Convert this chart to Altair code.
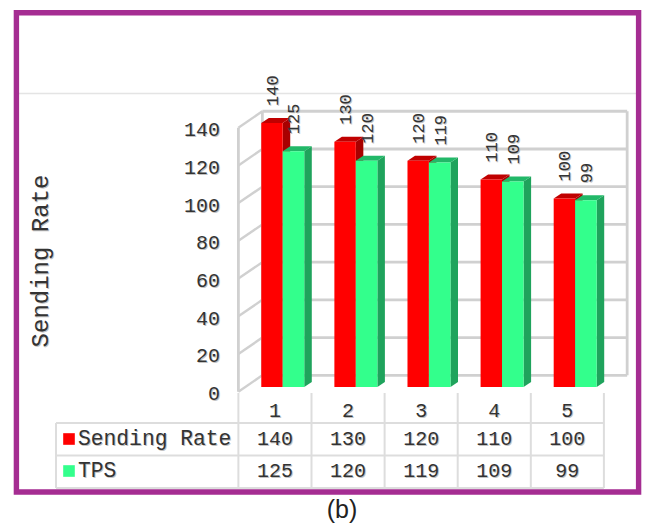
import altair as alt
import pandas as pd

# ---- chart values ----
categories = [1, 2, 3, 4, 5]
sending_rate = [140, 130, 120, 110, 100]
tps = [125, 120, 119, 109, 99]
y_ticks = [0, 20, 40, 60, 80, 100, 120, 140]

W, H = 645, 529
MONO = "Liberation Mono"
INK = "#333333"
HALO = "#b4b4b4"
WALL = "#d0d0d0"
TABLE = "#dddddd"

# Category positions run 73.1 px per step, values 1.886 px per unit.
x_scale = alt.Scale(domain=[-2.761, 6.062], range=[0, W], nice=False, zero=False)
y_scale = alt.Scale(domain=[-75.3, 205.2], range=[H, 0], nice=False, zero=False)
NOAXIS = dict(axis=None, title=None)


def X(field):
    return alt.X(f"{field}:Q", scale=x_scale, **NOAXIS)


def Y(field):
    return alt.Y(f"{field}:Q", scale=y_scale, **NOAXIS)


# Depth of the box walls and of the bars, in scale units.
WALL_DX, WALL_FRONT, WALL_BACK = 0.328, -2.5, 6.2
BAR_DX, BAR_DY = 0.103, 2.65
CELL_LEFT, CELL_RIGHT = -0.5, 0.5
BACK_RIGHT = 4.99

# ---- box walls ----
walls = pd.DataFrame({"v": y_ticks})
walls["front"] = walls.v + WALL_FRONT
walls["back"] = walls.v + WALL_BACK
x_front = categories[0] + CELL_LEFT
x_back = x_front + WALL_DX
walls["x_back"] = x_back
walls["x_right"] = x_back + BACK_RIGHT

diag = pd.concat([
    pd.DataFrame({"v": walls.v, "px": x_front, "py": walls.front}),
    pd.DataFrame({"v": walls.v, "px": x_back, "py": walls.back}),
])
diagonals = alt.Chart(diag).mark_line(color=WALL, strokeWidth=2.4).encode(
    x=X("px"), y=Y("py"), detail="v:N")
back_lines = alt.Chart(walls).mark_rule(color=WALL, strokeWidth=2.8).encode(
    x=X("x_back"), x2="x_right:Q", y=Y("back"))

edges = pd.DataFrame({
    "ex": [x_front, x_back, x_back + BACK_RIGHT],
    "lo": [WALL_FRONT, WALL_BACK, WALL_BACK],
    "hi": [140 + WALL_FRONT, 140 + WALL_BACK, 140 + WALL_BACK],
})
wall_edges = alt.Chart(edges).mark_rule(color=WALL, strokeWidth=2.8).encode(
    x=X("ex"), y=Y("lo"), y2="hi:Q")


# ---- 3D bars ----
def bar_layers(values, lo, hi, front, side, top):
    rows = pd.DataFrame({"c": categories, "v": values})
    rows["x0"] = rows.c + lo
    rows["x1"] = rows.c + hi
    rows["base"] = 0

    side_pts = pd.concat([
        pd.DataFrame({"c": rows.c, "px": rows.x1, "a": rows.base, "b": rows.v}),
        pd.DataFrame({"c": rows.c, "px": rows.x1 + BAR_DX,
                      "a": rows.base + BAR_DY, "b": rows.v + BAR_DY}),
    ])
    side_face = alt.Chart(side_pts).mark_area(color=side, opacity=1).encode(
        x=X("px"), y=Y("b"), y2="a:Q", detail="c:N")

    top_pts = pd.concat([
        pd.DataFrame({"c": rows.c, "py": rows.v, "a": rows.x0, "b": rows.x1}),
        pd.DataFrame({"c": rows.c, "py": rows.v + BAR_DY,
                      "a": rows.x0 + BAR_DX, "b": rows.x1 + BAR_DX}),
    ])
    top_face = alt.Chart(top_pts).mark_area(
        color=top, opacity=1, orient="horizontal"
    ).encode(y=Y("py"), x=X("a"), x2="b:Q", detail="c:N")

    front_face = alt.Chart(rows).mark_rect(color=front).encode(
        x=X("x0"), x2="x1:Q", y=Y("base"), y2="v:Q")
    return [side_face, top_face, front_face]


RED_SPAN = (-0.187, 0.106)
GREEN_SPAN = (0.106, 0.401)
red_bars = bar_layers(sending_rate, *RED_SPAN, "#ff0000", "#a80000", "#c00000")
green_bars = bar_layers(tps, *GREEN_SPAN, "#33ff8c", "#1fa35c", "#22b868")


# ---- text with a soft drop shadow ----
def shadowed(data, encoding, **mark):
    dx, dy = mark.pop("dx", 0), mark.pop("dy", 0)
    # Offsets follow the text's own rotation, so the shadow direction flips for upright labels.
    shadow_dx = -1 if mark.get("angle") == 270 else 1
    halo = alt.Chart(data).mark_text(
        color=HALO, dx=dx + shadow_dx, dy=dy + 1, opacity=0.8, **mark).encode(**encoding)
    main = alt.Chart(data).mark_text(
        color=INK, dx=dx, dy=dy, **mark).encode(**encoding)
    return [halo, main]


def value_labels(values, lo, hi):
    rows = pd.DataFrame({"c": categories, "v": values})
    rows["mid"] = rows.c + (lo + hi) / 2
    return shadowed(
        rows, dict(x=X("mid"), y=Y("v"), text="v:Q"),
        font=MONO, fontSize=17, angle=270, align="left", baseline="middle",
        dx=17, dy=1)


tick_rows = walls.assign(pos=walls.front)
y_labels = shadowed(
    tick_rows, dict(x=alt.value(220), y=Y("pos"), text="v:Q"),
    font=MONO, fontSize=20, align="right", baseline="middle", dy=2.5)

y_title = shadowed(
    pd.DataFrame({"t": ["Sending Rate"]}),
    dict(x=alt.value(41), y=alt.value(261), text="t:N"),
    font=MONO, fontSize=24, angle=270, align="center", baseline="middle")

# ---- data table below the plot ----
HEAD_Y, RATE_Y, TPS_Y = 411, 439, 471
table = pd.DataFrame({"c": categories, "rate": sending_rate, "tps": tps})
cat_text = shadowed(table, dict(x=X("c"), y=alt.value(HEAD_Y), text="c:Q"),
                    font=MONO, fontSize=20, align="center", baseline="middle")
rate_text = shadowed(table, dict(x=X("c"), y=alt.value(RATE_Y), text="rate:Q"),
                     font=MONO, fontSize=20, align="center", baseline="middle")
tps_text = shadowed(table, dict(x=X("c"), y=alt.value(TPS_Y), text="tps:Q"),
                    font=MONO, fontSize=20, align="center", baseline="middle")

splits = pd.DataFrame({"b": [categories[0] + CELL_LEFT] + [c + CELL_RIGHT for c in categories]})
table_cols = alt.Chart(splits).mark_rule(color=TABLE, strokeWidth=2).encode(
    x=X("b"), y=alt.value(393), y2=alt.value(488))
one = pd.DataFrame({"k": [0], "x_end": [categories[-1] + CELL_RIGHT]})
table_left = alt.Chart(one).mark_rule(color=TABLE, strokeWidth=2).encode(
    x=alt.value(56), y=alt.value(423), y2=alt.value(488))
table_rows = [
    alt.Chart(one).mark_rule(color=TABLE, strokeWidth=2).encode(
        x=X("x_end"), x2=alt.value(56), y=alt.value(py))
    for py in (423, 455.5, 488)
]


def legend_row(name, colour, py, size):
    row = pd.DataFrame({"name": [name]})
    swatch = alt.Chart(row).mark_square(size=135, opacity=1, color=colour).encode(
        x=alt.value(69), y=alt.value(py))
    label = shadowed(row, dict(x=alt.value(78), y=alt.value(py), text="name:N"),
                     font=MONO, fontSize=size, align="left", baseline="middle")
    return [swatch] + label


legend = legend_row("Sending Rate", "#ff0000", RATE_Y, 21.3) + legend_row("TPS", "#33ff8c", TPS_Y, 21.3)

# ---- surrounding frame, rule and caption ----
rule_top = alt.Chart(one).mark_rule(color="#e4e4e4", strokeWidth=1.5).encode(
    x=alt.value(19), x2=alt.value(636), y=alt.value(93.5))
frame = alt.Chart(one).mark_rect(
    fillOpacity=0, stroke="#a52d92", strokeWidth=5.4
).encode(x=alt.value(16.4), x2=alt.value(638.6), y=alt.value(12.8), y2=alt.value(492))
caption = alt.Chart(pd.DataFrame({"t": ["(b)"]})).mark_text(
    font="Liberation Sans", fontSize=25, color="#222222", align="center", baseline="middle"
).encode(x=alt.value(342), y=alt.value(510), text="t:N")

layers = (
    [rule_top, back_lines, diagonals, wall_edges]
    + red_bars + green_bars
    + value_labels(sending_rate, *RED_SPAN) + value_labels(tps, *GREEN_SPAN)
    + y_labels + y_title
    + [table_cols, table_left] + table_rows
    + cat_text + rate_text + tps_text
    + legend
    + [frame, caption]
)

chart = alt.layer(*layers).properties(
    width=W, height=H, padding=0,
    autosize=alt.AutoSizeParams(type="none"),
    background="white",
).configure_view(stroke=None)

chart.save("out.html", embed_options={"renderer": "svg", "actions": False})
